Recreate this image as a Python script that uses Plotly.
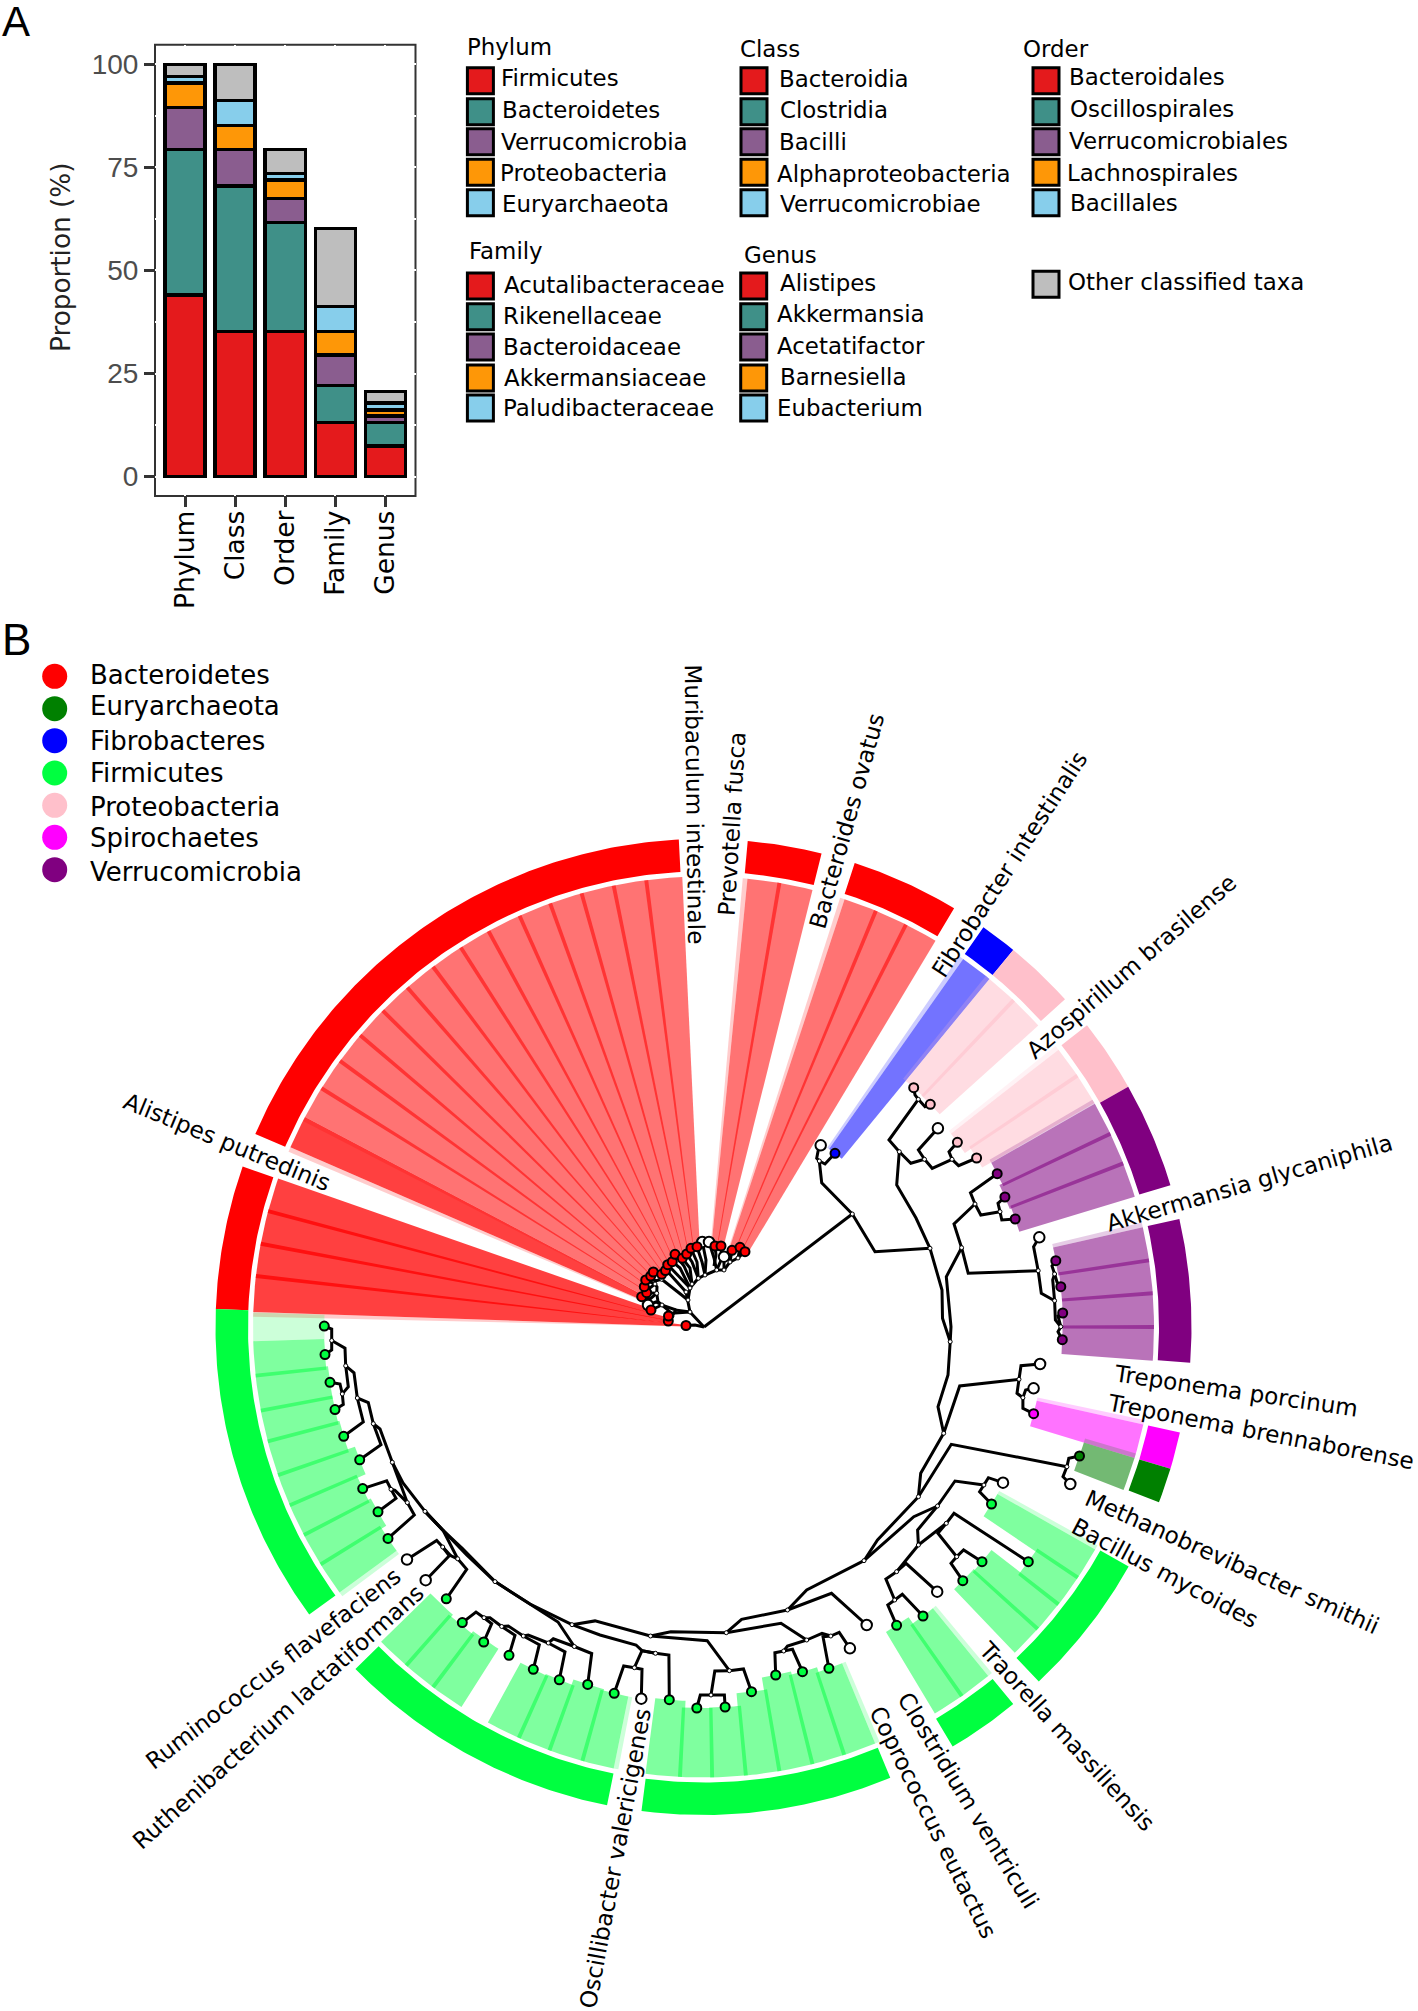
import math
import plotly.graph_objects as go

# ---------- Panel A data ----------
ranks = ["Phylum", "Class", "Order", "Family", "Genus"]
top1 = [44.1, 35.2, 35.2, 13.1, 7.4]
top2 = [35.3, 35.3, 26.5, 9.0, 5.7]
top3 = [10.2, 8.9, 5.8, 7.4, 1.6]
top4 = [5.9, 5.8, 4.5, 5.7, 1.5]
top5 = [1.6, 6.0, 1.6, 6.1, 1.6]
other = [2.9, 8.8, 5.8, 18.9, 2.8]
y_ticks = [0, 25, 50, 75, 100]

phylum_names = ["Firmicutes", "Bacteroidetes", "Verrucomicrobia", "Proteobacteria", "Euryarchaeota"]
class_names = ["Bacteroidia", "Clostridia", "Bacilli", "Alphaproteobacteria", "Verrucomicrobiae"]
order_names = ["Bacteroidales", "Oscillospirales", "Verrucomicrobiales", "Lachnospirales", "Bacillales"]
family_names = ["Acutalibacteraceae", "Rikenellaceae", "Bacteroidaceae", "Akkermansiaceae", "Paludibacteraceae"]
genus_names = ["Alistipes", "Akkermansia", "Acetatifactor", "Barnesiella", "Eubacterium"]
other_name = "Other classified taxa"

# ---------- Panel B data ----------
phyla = ["Bacteroidetes", "Euryarchaeota", "Fibrobacteres", "Firmicutes", "Proteobacteria", "Spirochaetes", "Verrucomicrobia"]

# outer ring arcs: phylum, start angle, end angle (degrees)
ring_phylum = ["Bacteroidetes", "Bacteroidetes", "Bacteroidetes", "Bacteroidetes", "Fibrobacteres", "Proteobacteria",
               "Proteobacteria", "Verrucomicrobia", "Verrucomicrobia", "Spirochaetes", "Euryarchaeota", "Firmicutes",
               "Firmicutes", "Firmicutes", "Firmicutes", "Firmicutes"]
ring_start = [177.9, 156.7, 84.8, 71.95, 55.0, 50.6, 38.2, 29.5, 12.8, -12.5, -16.9, -29.4, -50.6, -67.5, -101.4, -143.9]
ring_end = [160.8, 92.9, 76.0, 59.1, 50.6, 42.2, 29.5, 16.9, -4.2, -16.9, -21.05, -46.6, -59.3, -97.3, -135.5, -182.1]

# highlighted clades: sector boundaries (deg) and the tip of each sector
clade_phylum = ["Bacteroidetes", "Bacteroidetes", "Bacteroidetes", "Bacteroidetes", "Bacteroidetes", "Fibrobacteres",
                "Proteobacteria", "Proteobacteria", "Verrucomicrobia", "Verrucomicrobia", "Spirochaetes", "Euryarchaeota",
                "Firmicutes", "Firmicutes", "Firmicutes", "Firmicutes", "Firmicutes", "Firmicutes", "Firmicutes"]
clade_bounds = [
    [178.1, 173.5, 169.35, 165.1, 160.76],
    [156.5, 152.2],
    [152.2, 148.0, 143.8, 139.65, 135.4, 131.1, 126.9, 122.6, 118.5, 114.1, 109.9, 105.7, 101.5, 97.3, 92.7],
    [84.4, 80.3, 76.0],
    [71.75, 67.5, 63.3, 59.0],
    [54.8, 50.6],
    [50.6, 46.5, 42.0],
    [38.0, 33.9, 29.8],
    [29.7, 25.4, 21.3, 16.8],
    [12.8, 8.5, 4.3, 0.0, -4.3],
    [-12.5, -16.9],
    [-16.9, -21.2],
    [-29.6, -33.8, -38.0, -42.1, -46.3],
    [-50.8, -55.0, -59.1],
    [-67.6, -71.8, -76.0, -80.3, -84.6, -88.9, -93.0, -97.4],
    [-101.5, -105.6, -110.0, -114.2, -118.6],
    [-122.5, -126.9, -131.3, -135.7],
    [-143.9, -148.2, -152.5, -156.7, -160.8, -165.3, -169.3, -173.8, -178.2],
    [-178.2, -181.85],
]
clade_tips = [
    [(686, 1325.5), (668.3, 1321), (668.5, 1316), (651, 1310)],
    [(641.7, 1296.7)],
    [(646.7, 1292.7), (644.3, 1286.7), (645.7, 1280), (650.7, 1276), (653.3, 1272), (661.7, 1274.3), (665.5, 1270.5),
     (667.7, 1264.7), (672.3, 1261.7), (675, 1254.3), (682.3, 1258.3), (686.7, 1254), (691, 1248.3), (697, 1246.7)],
    [(715, 1246), (721, 1246)],
    [(732, 1250.3), (740, 1247.3), (745, 1251.7)],
    [(835, 1153.3)],
    [(913.7, 1087.7), (930.3, 1104.3)],
    [(957.4, 1142.3), (976.6, 1158)],
    [(997.2, 1173.7), (1004.9, 1197), (1015.2, 1219)],
    [(1055.8, 1260.7), (1060.8, 1286.7), (1062.7, 1313), (1062.3, 1339.7)],
    [(1033.6, 1413.7)],
    [(1079.5, 1456)],
    [(991.5, 1504), (1028.3, 1561.7), (982, 1561.7), (962.8, 1580.7)],
    [(923, 1616), (896.6, 1625.3)],
    [(828.9, 1668.3), (802.5, 1671.7), (775.7, 1675), (751.5, 1691.7), (725.1, 1707), (696.8, 1708), (669.3, 1699.7)],
    [(614.2, 1693.3), (587.7, 1684.4), (559.3, 1679.8), (533.3, 1669.3)],
    [(509, 1655.3), (483.7, 1642), (462.3, 1622.6)],
    [(388, 1538.4), (378, 1511.8), (362.7, 1488.6), (359.7, 1459.8), (343.7, 1436.3), (335, 1409.6), (330, 1382.3), (325, 1354.6)],
    [(324.3, 1326.1)],
]
clade_strength = [0.75, 0.75, 0.55, 0.55, 0.55, 0.55, 0.55, 0.55, 0.55, 0.55, 0.55, 0.55, 0.5, 0.5, 0.5, 0.5, 0.5, 0.5, 0.2]
# tips of taxa that carry no highlight
white_tips = [(648, 1305), (702.3, 1242), (709, 1242), (724, 1256.7), (820.7, 1145.3), (937.9, 1128.3), (1039.3, 1237.3),
              (1040.1, 1364), (1033.6, 1388.3), (1070.3, 1484), (1003, 1482.7), (937.2, 1591.7), (866.7, 1625),
              (849.9, 1648.3), (641.3, 1698.7), (425.7, 1580.2), (407, 1559.5)]
green_extra_tips = [(446.3, 1598.8)]

tree_edges = [
    # upper right
    [(704, 1327), (852.3, 1214)],
    [(852.3, 1214), (821.7, 1182.7), (819.3, 1161)],
    [(819.3, 1161), (816.7, 1158.3), (818.3, 1150), (820.7, 1145.3)],
    [(819.3, 1161), (825, 1164), (835, 1153.3)],
    [(852.3, 1214), (875, 1251.7), (930, 1248.3)],
    [(930, 1248.3), (916, 1218), (896.7, 1185), (899.3, 1151.7)],
    [(899.3, 1151.7), (889, 1140), (918.3, 1099.3)],
    [(918.3, 1099.3), (915, 1095), (913.7, 1087.7)],
    [(918.3, 1099.3), (925, 1106.7), (930.3, 1104.3)],
    [(899.3, 1151.7), (910.8, 1163.3), (924.5, 1159.3)],
    [(924.5, 1159.3), (918.4, 1150), (937.9, 1128.3)],
    [(924.5, 1159.3), (932.2, 1168.3), (952, 1159.3)],
    [(952, 1159.3), (949, 1151.7), (957.4, 1142.3)],
    [(952, 1159.3), (958.6, 1165.7), (976.6, 1158)],
    [(930, 1248.3), (942, 1290), (942.5, 1318.3), (950.2, 1341.7)],
    [(950.2, 1341.7), (951, 1326.7), (946.3, 1276.7), (961.6, 1247.7)],
    [(961.6, 1247.7), (954, 1224), (975, 1204)],
    [(975, 1204), (970.5, 1192.7), (997.2, 1173.7)],
    [(975, 1204), (980.8, 1215), (1000, 1211.7)],
    [(1000, 1211.7), (998, 1203.3), (1004.9, 1197)],
    [(1000, 1211.7), (1001.8, 1220), (1015.2, 1219)],
    [(961.6, 1247.7), (968.2, 1273.3), (1038.2, 1270.7)],
    [(1038.2, 1270.7), (1033.6, 1246.7), (1039.3, 1237.3)],
    [(1038.2, 1270.7), (1041.3, 1293.3), (1054.6, 1300.7)],
    [(1054.6, 1300.7), (1052.7, 1280), (1054.6, 1274)],
    [(1054.6, 1274), (1052, 1266), (1055.8, 1260.7)],
    [(1054.6, 1274), (1057, 1282), (1060.8, 1286.7)],
    [(1054.6, 1300.7), (1055.4, 1320), (1060.8, 1326.7)],
    [(1060.8, 1326.7), (1058, 1316), (1062.7, 1313)],
    [(1060.8, 1326.7), (1058, 1331.7), (1062.3, 1339.7)],
    # right, backbone
    [(950.2, 1341.7), (948, 1375), (938, 1406.7), (943.7, 1433.3)],
    [(943.7, 1433.3), (959.7, 1386), (1019, 1379.3)],
    [(1019, 1379.3), (1021, 1365.7), (1040.1, 1364)],
    [(1019, 1379.3), (1017, 1393.3), (1022.9, 1397.7)],
    [(1022.9, 1397.7), (1025.6, 1390), (1033.6, 1388.3)],
    [(1022.9, 1397.7), (1022.9, 1408.3), (1033.6, 1413.7)],
    [(943.7, 1433.3), (920.7, 1473.3), (918.4, 1496.7)],
    [(918.4, 1496.7), (951.3, 1444.3), (1066.9, 1466.7)],
    [(1066.9, 1466.7), (1063, 1476.7), (1070.3, 1484)],
    [(1066.9, 1466.7), (1068.8, 1458.3), (1079.5, 1456)],
    [(918.4, 1496.7), (877.5, 1540), (864, 1560.7)],
    [(864, 1560.7), (892, 1536), (913.8, 1516.7), (937.5, 1506)],
    [(937.5, 1506), (955, 1481), (983.9, 1485)],
    [(983.9, 1485), (988.4, 1477.7), (1003, 1482.7)],
    [(983.9, 1485), (979.6, 1491.7), (991.5, 1504)],
    [(937.5, 1506), (917.6, 1530), (918.4, 1545)],
    [(918.4, 1545), (946.3, 1523.3)],
    [(946.3, 1523.3), (954, 1513.3), (1028.3, 1561.7)],
    [(946.3, 1523.3), (937.9, 1533.3), (956.7, 1556.7)],
    [(956.7, 1556.7), (963.6, 1550), (982, 1561.7)],
    [(956.7, 1556.7), (951, 1563.3), (962.8, 1580.7)],
    [(918.4, 1545), (896.6, 1571.7)],
    [(896.6, 1571.7), (906, 1563.3), (937.2, 1591.7)],
    [(896.6, 1571.7), (885.9, 1579), (894.7, 1600)],
    [(894.7, 1600), (902.3, 1594.3), (923, 1616)],
    [(894.7, 1600), (887.8, 1605), (896.6, 1625.3)],
    # bottom
    [(864, 1560.7), (806.7, 1590), (787.5, 1610)],
    [(787.5, 1610), (831.5, 1593.3), (866.7, 1625)],
    [(787.5, 1610), (741.6, 1619.3), (726.3, 1632.7)],
    [(726.3, 1632.7), (781, 1623.3), (806.7, 1640)],
    [(806.7, 1640), (822, 1633.3), (830.8, 1636)],
    [(830.8, 1636), (839.2, 1632.3), (849.9, 1648.3)],
    [(830.8, 1636), (823, 1636.7), (828.9, 1668.3)],
    [(806.7, 1640), (787.5, 1646), (783.7, 1651)],
    [(783.7, 1651), (774.9, 1652.7), (775.7, 1675)],
    [(783.7, 1651), (792.5, 1649.3), (802.5, 1671.7)],
    [(726.3, 1632.7), (670.8, 1631.7), (650.5, 1636)],
    [(650.5, 1636), (707.2, 1640.7), (729.4, 1670.7)],
    [(729.4, 1670.7), (743.5, 1669), (751.5, 1691.7)],
    [(729.4, 1670.7), (714.8, 1671), (711, 1695)],
    [(711, 1695), (724.4, 1695), (725.1, 1707)],
    [(711, 1695), (700.3, 1695), (696.8, 1708)],
    [(650.5, 1636), (595, 1620.9), (572, 1624.7)],
    [(572, 1624.7), (600, 1635), (636, 1645), (642, 1650.7), (655.5, 1653.3)],
    [(655.5, 1653.3), (668.9, 1655), (669.3, 1699.7)],
    [(655.5, 1653.3), (642, 1650.7), (634.4, 1667.7)],
    [(634.4, 1667.7), (623.7, 1666), (614.2, 1693.3)],
    [(634.4, 1667.7), (642, 1669.3), (641.3, 1698.7)],
    [(495, 1581.6), (530, 1604), (572, 1624.7)],
    [(495, 1581.6), (520, 1597.4), (558, 1622), (574.3, 1646.5)],
    [(574.3, 1646.5), (591.7, 1653.5), (587.7, 1684.4)],
    [(574.3, 1646.5), (553.3, 1638.8), (548.3, 1643)],
    [(548.3, 1643), (565, 1651.8), (559.3, 1679.8)],
    [(548.3, 1643), (528.3, 1635), (523.3, 1636)],
    [(523.3, 1636), (539.3, 1644.7), (533.3, 1669.3)],
    [(523.3, 1636), (508.3, 1626), (501.7, 1626.5)],
    [(501.7, 1626.5), (515, 1635.3), (509, 1655.3)],
    [(501.7, 1626.5), (490, 1617.7), (484, 1617.7)],
    [(484, 1617.7), (491.7, 1623.7), (483.7, 1642)],
    [(484, 1617.7), (476, 1612), (462.3, 1622.6)],
    # left
    [(495, 1581.6), (466.7, 1555), (425, 1511.4)],
    [(495, 1581.6), (462, 1548), (443.3, 1530.7), (425, 1511.4)],
    [(425, 1511.4), (443.3, 1530.7), (457.7, 1558.8)],
    [(457.7, 1558.8), (466.7, 1569.3), (446.3, 1598.8)],
    [(457.7, 1558.8), (448.3, 1554.6), (442.7, 1547)],
    [(442.7, 1547), (450, 1555), (425.7, 1580.2)],
    [(442.7, 1547), (436.7, 1540.5), (407, 1559.5)],
    [(425, 1511.4), (403, 1483), (392.3, 1462.3)],
    [(392.3, 1462.3), (400, 1482), (407.3, 1502.6)],
    [(407.3, 1502.6), (414.3, 1515), (388, 1538.4)],
    [(407.3, 1502.6), (395, 1490.4), (391, 1489.3)],
    [(391, 1489.3), (386.7, 1480.9), (362.7, 1488.6)],
    [(391, 1489.3), (396, 1498.4), (378, 1511.8)],
    [(392.3, 1462.3), (380, 1429), (373.3, 1423.7)],
    [(373.3, 1423.7), (381, 1444.7), (359.7, 1459.8)],
    [(373.3, 1423.7), (368.3, 1402.6), (357.3, 1398)],
    [(357.3, 1398), (363.3, 1422), (343.7, 1436.3)],
    [(357.3, 1398), (354, 1372.8), (345.7, 1365.8)],
    [(345.7, 1365.8), (348.3, 1386.8), (342.3, 1393.9)],
    [(342.3, 1393.9), (340, 1384), (330, 1382.3)],
    [(342.3, 1393.9), (343.3, 1404.4), (335, 1409.6)],
    [(345.7, 1365.8), (345, 1348.2), (331.7, 1340.5)],
    [(331.7, 1340.5), (331.7, 1329), (324.3, 1326.1)],
    [(331.7, 1340.5), (331.7, 1350), (325, 1354.6)],
    # red clade
    [(704, 1327), (695, 1325), (686, 1325.5)],
    [(704, 1327), (695, 1318), (690, 1312)],
    [(690, 1312), (676, 1310), (672, 1316), (668.3, 1321)],
    [(672, 1316), (668.5, 1316)],
    [(676, 1310), (662, 1305), (651, 1310)],
    [(662, 1305), (656, 1302), (648, 1305)],
    [(690, 1312), (688, 1300), (686, 1292)],
    [(690, 1312), (671.7, 1313.3), (658, 1301.7), (656.7, 1293.3)],
    [(688, 1300), (661.7, 1279.3)],
    [(656.7, 1293.3), (650, 1299), (641.7, 1296.7)],
    [(656.7, 1293.3), (646.7, 1292.7)],
    [(656.7, 1293.3), (657, 1287), (655, 1284)],
    [(655, 1284), (650, 1288), (644.3, 1286.7)],
    [(655, 1284), (650, 1282), (645.7, 1280)],
    [(661.7, 1279.3), (655, 1281), (650.7, 1276)],
    [(661.7, 1279.3), (658, 1272), (653.3, 1272)],
    [(661.7, 1279.3), (661.7, 1274.3)],
    [(688, 1300), (690, 1288)],
    [(690, 1288), (672, 1270), (667.7, 1264.7)],
    [(686, 1292), (668, 1272), (665.5, 1270.5)],
    [(690, 1288), (680, 1268), (672.3, 1261.7)],
    [(692, 1284), (684, 1266), (675, 1254.3)],
    [(692, 1284), (690, 1268), (682.3, 1258.3)],
    [(698.3, 1278.3), (692, 1262), (686.7, 1254)],
    [(698.3, 1278.3), (697, 1262), (691, 1248.3)],
    [(705, 1275), (702, 1262), (697, 1246.7)],
    [(705, 1275), (706, 1260), (702.3, 1242)],
    [(716.7, 1270), (714, 1258), (709, 1242)],
    [(690, 1288), (698.3, 1278.3), (705, 1275), (716.7, 1270), (724, 1270)],
    [(714, 1266), (716, 1255), (715, 1246)],
    [(716.7, 1270), (722, 1258), (721, 1246)],
    [(724, 1270), (724, 1256.7)],
    [(724, 1270), (730, 1262), (732, 1250.3)],
    [(730, 1262), (738, 1258), (740, 1247.3)],
    [(738, 1258), (745, 1251.7)],
]
tree_nodes = [
    (852.3, 1214), (819.3, 1161), (930, 1248.3), (899.3, 1151.7), (918.3, 1099.3), (924.5, 1159.3), (952, 1159.3),
    (950.2, 1341.7), (961.6, 1247.7), (975, 1204), (1000, 1211.7), (1038.2, 1270.7), (1054.6, 1300.7), (1054.6, 1274),
    (1060.8, 1326.7), (943.7, 1433.3), (1019, 1379.3), (1022.9, 1397.7), (918.4, 1496.7), (1066.9, 1466.7), (864, 1560.7),
    (937.5, 1506), (983.9, 1485), (918.4, 1545), (946.3, 1523.3), (956.7, 1556.7), (896.6, 1571.7), (894.7, 1600),
    (787.5, 1610), (726.3, 1632.7), (806.7, 1640), (830.8, 1636), (783.7, 1651), (650.5, 1636), (729.4, 1670.7), (711, 1695),
    (572, 1624.7), (655.5, 1653.3), (634.4, 1667.7), (495, 1581.6), (574.3, 1646.5), (548.3, 1643), (523.3, 1636),
    (501.7, 1626.5), (484, 1617.7), (425, 1511.4), (457.7, 1558.8), (442.7, 1547), (392.3, 1462.3), (407.3, 1502.6),
    (391, 1489.3), (373.3, 1423.7), (357.3, 1398), (345.7, 1365.8), (342.3, 1393.9), (331.7, 1340.5),
    (690, 1312), (688, 1300), (686, 1292), (656.7, 1293.3), (661.7, 1279.3), (655, 1284), (672, 1316), (662, 1305),
    (690, 1288), (698.3, 1278.3), (705, 1275), (716.7, 1270), (724, 1270), (730, 1262), (738, 1258), (692, 1284),
]

species = ["Muribaculum intestinale", "Prevotella fusca", "Bacteroides ovatus", "Fibrobacter intestinalis",
           "Azospirillum brasilense", "Akkermansia glycaniphila", "Treponema porcinum", "Treponema brennaborense",
           "Methanobrevibacter smithii", "Bacillus mycoides", "Traorella massiliensis", "Clostridium ventriculi",
           "Coprococcus eutactus", "Oscillibacter valericigenes", "Ruthenibacterium lactatiformans",
           "Ruminococcus flavefaciens", "Alistipes putredinis"]

# ---------- Layout constants ----------
W, H = 1418, 2011
CX, CY = 703.5, 1327
R_OUT, R_IN, R_HI = 488, 455.5, 450.5
bar_colors = ["#E41A1C", "#3F9088", "#8A5D8F", "#FE9707", "#87CEEB", "#BEBEBE"]
phylum_color = {"Bacteroidetes": "#FF0000", "Euryarchaeota": "#008000", "Fibrobacteres": "#0000FF", "Firmicutes": "#00FF40",
                "Proteobacteria": "#FFC0CB", "Spirochaetes": "#FF00FF", "Verrucomicrobia": "#800080"}
FONT = "DejaVu Sans"


def rgba(hexc, a):
    h = hexc.lstrip("#")
    return "rgba(%d,%d,%d,%s)" % (int(h[:2], 16), int(h[2:4], 16), int(h[4:], 16), a)


def sector(a0, a1, r0, r1):
    n = max(2, int(abs(a1 - a0) / 0.5) + 1)
    ang = [a0 + (a1 - a0) * i / (n - 1) for i in range(n)]
    xs = [CX + r1 * math.cos(math.radians(a)) for a in ang] + [CX + r0 * math.cos(math.radians(a)) for a in reversed(ang)]
    ys = [CY - r1 * math.sin(math.radians(a)) for a in ang] + [CY - r0 * math.sin(math.radians(a)) for a in reversed(ang)]
    return xs + xs[:1], ys + ys[:1]


fig = go.Figure()


def add_poly(xs, ys, color):
    fig.add_trace(go.Scatter(x=xs, y=ys, xaxis="x2", yaxis="y2", mode="lines", fill="toself", fillcolor=color,
                             line=dict(width=0, color=color), hoverinfo="skip", showlegend=False))


# Panel A bars
for vals, col, name in zip([top1, top2, top3, top4, top5, other], bar_colors, ["1", "2", "3", "4", "5", "Other"]):
    fig.add_trace(go.Bar(x=ranks, y=vals, name=name, width=0.8, marker=dict(color=col, line=dict(color="black", width=3.5)),
                         showlegend=False, hoverinfo="skip"))

# Panel B highlights
OV = 0.25
for ph, bounds, tips, a in zip(clade_phylum, clade_bounds, clade_tips, clade_strength):
    col = phylum_color[ph]
    n = len(bounds) - 1
    r_first = math.hypot(tips[0][0] - CX, tips[0][1] - CY)
    if a > 0.2 and not (bounds[0] == -122.5):
        fx, fy = sector(bounds[0] + 0.6, bounds[0], r_first, R_HI)
        add_poly(fx, fy, rgba(col, 0.2))
    for k in range(n):
        hi = bounds[k] + (OV if k > 0 else 0)
        lo = bounds[k + 1] - (OV if k < n - 1 else 0)
        r = math.hypot(tips[k][0] - CX, tips[k][1] - CY)
        sx, sy = sector(hi, lo, r, R_HI)
        add_poly(sx, sy, rgba(col, a))

# Outer ring
for ph, a0, a1 in zip(ring_phylum, ring_start, ring_end):
    sx, sy = sector(a0, a1, R_IN, R_OUT)
    add_poly(sx, sy, phylum_color[ph])

# Tree
ex, ey = [], []
for edge in tree_edges:
    ex += [p[0] for p in edge] + [None]
    ey += [p[1] for p in edge] + [None]
fig.add_trace(go.Scatter(x=ex, y=ey, xaxis="x2", yaxis="y2", mode="lines", line=dict(color="black", width=3),
                         hoverinfo="skip", showlegend=False))
fig.add_trace(go.Scatter(x=[p[0] for p in tree_nodes], y=[p[1] for p in tree_nodes], xaxis="x2", yaxis="y2", mode="markers",
                         marker=dict(color="white", size=4, line=dict(color="black", width=1)), hoverinfo="skip", showlegend=False))
fig.add_trace(go.Scatter(x=[p[0] for p in white_tips], y=[p[1] for p in white_tips], xaxis="x2", yaxis="y2", mode="markers",
                         marker=dict(color="white", size=10.5, line=dict(color="black", width=2)), hoverinfo="skip", showlegend=False))
for ph, tips in zip(clade_phylum, clade_tips):
    fig.add_trace(go.Scatter(x=[p[0] for p in tips], y=[p[1] for p in tips], xaxis="x2", yaxis="y2", mode="markers",
                             marker=dict(color=phylum_color[ph], size=9, line=dict(color="black", width=2)),
                             hoverinfo="skip", showlegend=False))
fig.add_trace(go.Scatter(x=[p[0] for p in green_extra_tips], y=[p[1] for p in green_extra_tips], xaxis="x2", yaxis="y2", mode="markers",
                         marker=dict(color=phylum_color["Firmicutes"], size=9, line=dict(color="black", width=2)),
                         hoverinfo="skip", showlegend=False))

annots = []


def label(x, y, text, size=22.9, color="black", angle=0, xanchor="center", family=FONT):
    annots.append(dict(x=x, y=y, xref="x2", yref="y2", text=text, showarrow=False, xanchor=xanchor, yanchor="middle",
                       textangle=angle, font=dict(family=family, size=size, color=color)))


# Panel letters
label(16, 21, "A", size=42, family="Liberation Sans")
label(16, 639, "B", size=44, family="Liberation Sans")
label(61, 257, "Proportion (%)", size=26.3, color="#222222", angle=-90)

# Panel A legend
swatch_y1 = [80.7, 111.7, 141.7, 172.3, 202.7]
swatch_y2 = [286, 316.7, 347, 378, 408]
groups = [
    ("Phylum", 465, 46.5, 480.4, swatch_y1, phylum_names, [499, 500, 499, 497.5, 500], [78, 110, 141.7, 173, 204]),
    ("Class", 737.7, 49, 754, swatch_y1, class_names, [777, 777.5, 777, 775, 777.5], [78.7, 110, 141.7, 174, 204]),
    ("Order", 1020.8, 49, 1046, swatch_y1, order_names, [1066.5, 1067.5, 1066.5, 1065, 1068], [77, 109, 141, 173, 203]),
    ("Family", 467, 251, 480.4, swatch_y2, family_names, [502, 500.5, 500.5, 502, 500.5], [285, 315.7, 346.7, 377.7, 408]),
    ("Genus", 741.8, 255, 753.7, swatch_y2, genus_names, [777.5, 775, 775, 777.5, 775], [283, 314, 345.7, 376.7, 407.7]),
]
for title, tx, ty, sx_, sy_, names, lx, ly in groups:
    label(tx, ty, title, xanchor="left")
    fig.add_trace(go.Scatter(x=[sx_] * 5, y=sy_, xaxis="x2", yaxis="y2", mode="markers", hoverinfo="skip", showlegend=False,
                             marker=dict(symbol="square", size=26, color=bar_colors[:5], line=dict(color="black", width=3))))
    for n_, x_, y_ in zip(names, lx, ly):
        label(x_, y_, n_, xanchor="left")
fig.add_trace(go.Scatter(x=[1046], y=[284.3], xaxis="x2", yaxis="y2", mode="markers", hoverinfo="skip", showlegend=False,
                         marker=dict(symbol="square", size=26, color=bar_colors[5], line=dict(color="black", width=3))))
label(1065.7, 282, other_name, xanchor="left")

# Panel B legend
leg_y = [676.3, 708.7, 740.7, 773, 805.3, 837.3, 869.7]
leg_ty = [675, 706, 740.7, 773.3, 806.7, 837.7, 872]
fig.add_trace(go.Scatter(x=[54.7] * 7, y=leg_y, xaxis="x2", yaxis="y2", mode="markers", hoverinfo="skip", showlegend=False,
                         marker=dict(size=25, color=[phylum_color[p] for p in phyla], line=dict(width=0))))
for p, y_ in zip(phyla, leg_ty):
    label(88, y_, p, size=26, xanchor="left")

# Species labels
label_pos = [(695.5, 804, 89.3), (731, 824, -86.6), (846, 821, -74.4), (1008.7, 864, -57), (1130.5, 966, -40.7),
             (1249, 1182, -16.1), (1236, 1390, 8.3), (1261, 1431, 11), (1232, 1561, 24.1), (1165, 1572, 27.9),
             (1067, 1735, 47.5), (969, 1800, 58.6), (934, 1822, 63.5), (614.5, 1858, -79.5), (278, 1716.5, -42),
             (272.5, 1668, -37.5), (227, 1141, 22.4)]
for s, (x_, y_, ang_) in zip(species, label_pos):
    label(x_, y_, s, size=23.2, angle=ang_)

fig.update_layout(
    width=W, height=H, autosize=False, margin=dict(l=0, r=0, t=0, b=0), paper_bgcolor="white", plot_bgcolor="rgba(0,0,0,0)",
    barmode="stack", showlegend=False, annotations=annots,
    xaxis=dict(domain=[155 / W, 415.5 / W], anchor="y", range=[-0.6, 4.6], type="category", categoryorder="array", categoryarray=ranks,
               showgrid=True, gridcolor="white", gridwidth=2, zeroline=False, showline=False, ticks="outside", ticklen=10, tickwidth=2.5,
               tickcolor="#333333", tickangle=-90, tickfont=dict(family=FONT, size=26.5, color="black"), ticklabelstandoff=-7, fixedrange=True),
    yaxis=dict(domain=[1 - 496 / H, 1 - 44.7 / H], anchor="x", range=[-4.73, 104.8], tickvals=y_ticks, showgrid=True, gridcolor="white", gridwidth=2,
               minor=dict(dtick=12.5, tick0=0, showgrid=True, gridcolor="white", gridwidth=2, ticklen=0),
               zeroline=False, showline=False, ticks="outside", ticklen=10, tickwidth=2.5, tickcolor="#333333",
               tickfont=dict(family="Liberation Sans", size=28, color="#4D4D4D"), fixedrange=True),
    xaxis2=dict(domain=[0, 1], anchor="y2", range=[0, W], visible=False, fixedrange=True),
    yaxis2=dict(domain=[0, 1], anchor="x2", range=[H, 0], visible=False, fixedrange=True),
    shapes=[dict(type="rect", xref="x domain", yref="y domain", x0=0, x1=1, y0=0, y1=1, layer="below",
                 line=dict(color="#333333", width=2), fillcolor="white")],
)

fig.write_html("out.html", config=dict(displayModeBar=False),
               post_script="document.body.style.margin='0';document.documentElement.style.overflow='hidden';")
